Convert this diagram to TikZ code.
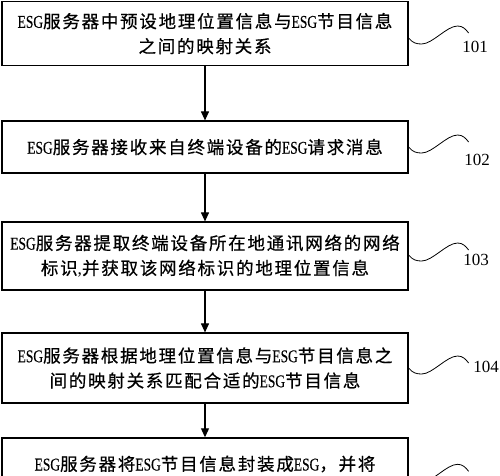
\documentclass[tikz,border=0pt]{standalone}
\usepackage{fontspec}
\usepackage{graphicx}
\setmainfont{Liberation Serif}
\newfontfamily\cjk[LetterSpace=10,FakeBold=0.6]{Noto Sans CJK SC}
\newfontfamily\latin[FakeBold=0.4]{Liberation Serif}
\usetikzlibrary{arrows.meta}
\newcommand\E[1]{{\latin\fontsize{18}{25}\selectfont\scalebox{0.75}[1]{#1}}}
\begin{document}
\begin{tikzpicture}[x=1pt,y=-1pt,
  box/.style={draw,line width=1.2pt,minimum width=406pt,inner sep=0pt,align=center,
    font=\cjk\fontsize{17.5}{25}\selectfont},
  txt/.style={inner sep=0pt,align=center,font=\cjk\fontsize{17.5}{25}\selectfont},
  flow/.style={line width=1.1pt,-{Triangle[length=9pt,width=8pt]}},
  squig/.style={line width=0.8pt},
  num/.style={font=\rmfamily\fontsize{17}{17}\selectfont,inner sep=0pt}]
\useasboundingbox (0,0) rectangle (500,475);
\clip (0,0) rectangle (500,475);
\fill[white] (0,0) rectangle (500,475);

\node[box,minimum height=64pt] (b1) at (205,33.6) {\E{ESG}服务器中预设地理位置信息与\E{ESG}节目信息\\之间的映射关系};
\node[box,minimum height=52pt] (b2) at (205,147) {\E{ESG}服务器接收来自终端设备的\E{ESG}请求消息};
\node[box,minimum height=68pt] (b3) at (205,256) {\E{ESG}服务器提取终端设备所在地通讯网络的网络\\标识{\rmfamily,}并获取该网络标识的地理位置信息};
\node[box,minimum height=70pt] (b4) at (205,368) {\E{ESG}服务器根据地理位置信息与\E{ESG}节目信息之\\间的映射关系匹配合适的\E{ESG}节目信息};
\node[box,minimum height=80pt,anchor=north] (b5) at (205,437.3) {};
\node[txt] (t5) at (205,464) {\E{ESG}服务器将\E{ESG}节目信息封装成\E{ESG}，并将};

\draw[flow] (b1.south) -- (b2.north);
\draw[flow] (b2.south) -- (b3.north);
\draw[flow] (b3.south) -- (b4.north);
\draw[flow] (b4.south) -- (b5.north);

\coordinate (s1) at ([yshift=-4.4pt]b1.east);
\coordinate (s2) at (b2.east);
\coordinate (s3) at ([yshift=1pt]b3.east);
\coordinate (s4) at (b4.east);
\coordinate (s5) at ([yshift=-39pt]b5.north east);

\foreach \s in {s1,s2,s3,s4,s5}{
  \begin{scope}[shift={(\s)}]
    \draw[squig] (0,0) .. controls (4,5) and (8,6) .. (13,6)
      .. controls (24,6) and (38,-12) .. (49,-12)
      .. controls (54,-12) and (57,-9) .. (60,-5);
  \end{scope}
}

\node[num] (n1) at (475,47) {101};
\node[num] (n2) at (477,160) {102};
\node[num] (n3) at (476,260) {103};
\node[num] (n4) at (486,367) {104};
\end{tikzpicture}
\end{document}
